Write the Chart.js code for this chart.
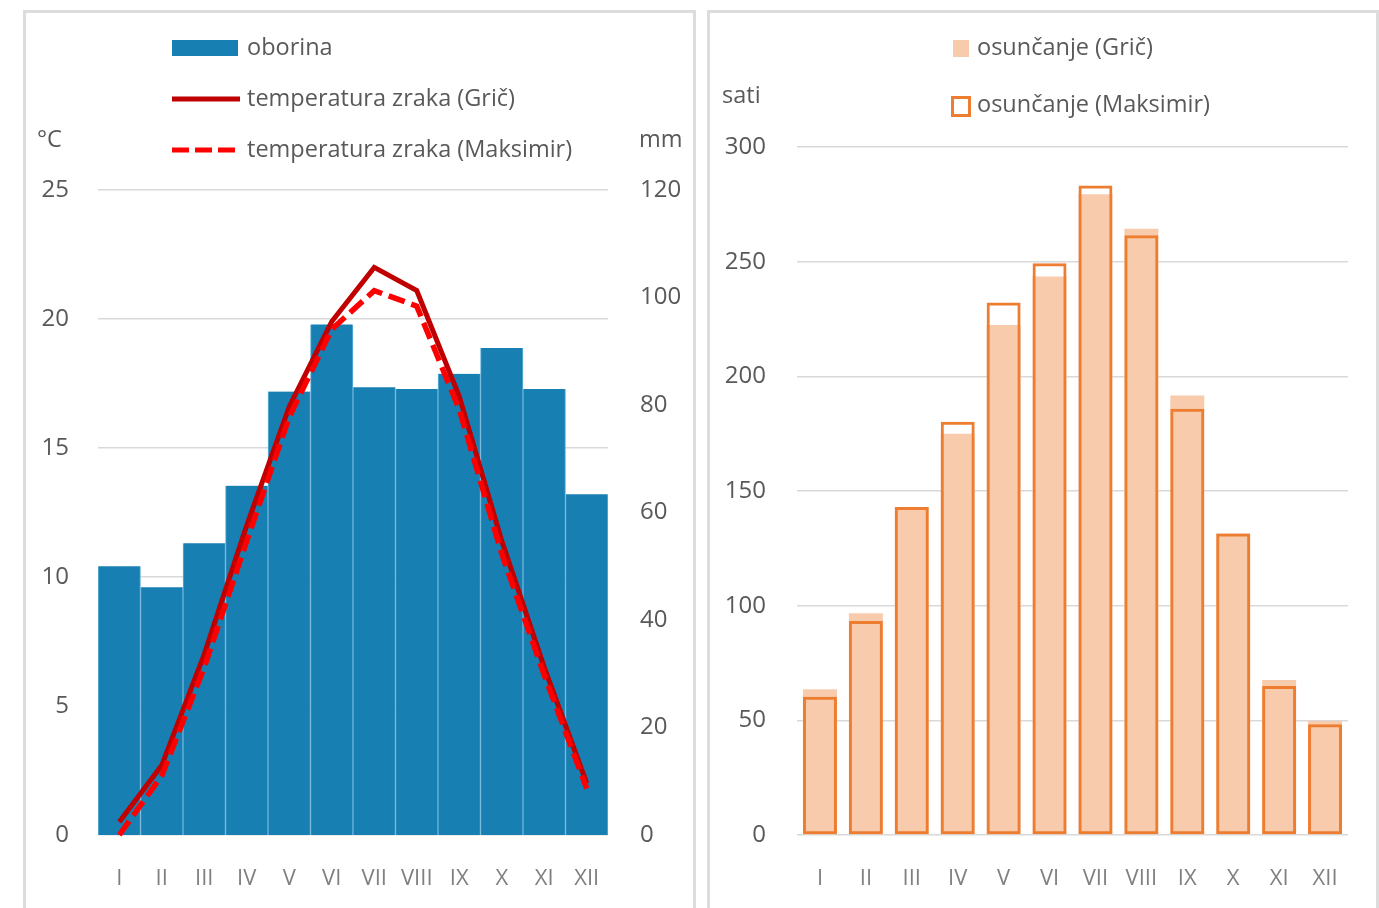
<!DOCTYPE html>
<html>
<head>
<meta charset="utf-8">
<script src="https://cdn.jsdelivr.net/npm/chart.js@4.4.1/dist/chart.umd.min.js"></script>
<style>
  html, body { margin: 0; padding: 0; background: #ffffff; overflow: hidden; }
  body { width: 1379px; height: 908px; position: relative; }
  .panel { position: absolute; top: 10px; height: 920px; border: 3px solid #dcdcdc; box-sizing: border-box; background: #fff; }
  #p1 { left: 23px; width: 673px; }
  #p2 { left: 707px; width: 672px; }
  canvas { position: absolute; }
  #c1 { left: 26px; top: 13px; }
  #c2 { left: 710px; top: 13px; }
</style>
</head>
<body>
<div class="panel" id="p1"></div>
<div class="panel" id="p2"></div>
<canvas id="c1" width="667" height="895"></canvas>
<canvas id="c2" width="666" height="895"></canvas>
<script>
// ---- Data ----
const months = ['I', 'II', 'III', 'IV', 'V', 'VI', 'VII', 'VIII', 'IX', 'X', 'XI', 'XII'];
const oborina = [50.0, 46.1, 54.3, 65.0, 82.5, 95.0, 83.3, 83.0, 85.8, 90.6, 83.0, 63.4];
const tempGric = [0.5, 2.7, 7.0, 12.0, 16.6, 19.9, 22.0, 21.1, 17.0, 11.4, 6.5, 2.0];
const tempMaksimir = [0.0, 2.3, 6.5, 11.4, 16.2, 19.6, 21.1, 20.5, 16.5, 10.9, 6.2, 1.8];
const sunGric = [63.5, 96.7, 143, 175, 222.4, 243.5, 279.4, 264.3, 191.6, 131.5, 67.6, 49.7];
const sunMaksimir = [60.3, 93.3, 143, 180.2, 232.2, 249.3, 283.2, 261.5, 185.9, 131.5, 65.0, 48.3];
const tempTicks = [0, 5, 10, 15, 20, 25];
const mmTicks = [0, 20, 40, 60, 80, 100, 120];
const satiTicks = [0, 50, 100, 150, 200, 250, 300];

const FONT = "'Open Sans', 'DejaVu Sans', sans-serif";
const TXT = '#595959';
Chart.defaults.font.family = FONT;
Chart.defaults.color = TXT;
Chart.defaults.animation = false;

// ---- Left chart helpers ----
const leftDecor = {
  id: 'leftDecor',
  afterDraw(chart) {
    const ctx = chart.ctx;
    const ds = chart.data.datasets;
    ctx.save();
    ctx.font = "23.5px " + FONT;
    ctx.fillStyle = TXT;
    ctx.textBaseline = 'middle';
    ctx.textAlign = 'left';
    const bx = 146, tx = 221;
    const rows = [35, 86, 137];
    ctx.fillStyle = ds[2].backgroundColor;
    ctx.fillRect(bx, rows[0] - 8, 66, 16);
    ctx.fillStyle = TXT;
    ctx.fillText(ds[2].label, tx, rows[0]);
    ctx.strokeStyle = ds[0].borderColor;
    ctx.lineWidth = 5;
    ctx.setLineDash([]);
    ctx.beginPath(); ctx.moveTo(bx, rows[1]); ctx.lineTo(bx + 68, rows[1]); ctx.stroke();
    ctx.fillText(ds[0].label, tx, rows[1]);
    ctx.strokeStyle = ds[1].borderColor;
    ctx.setLineDash([17, 6]);
    ctx.beginPath(); ctx.moveTo(bx, rows[2]); ctx.lineTo(bx + 63, rows[2]); ctx.stroke();
    ctx.setLineDash([]);
    ctx.fillText(ds[1].label, tx, rows[2]);
    ctx.font = "23.5px " + FONT;
    ctx.fillText('°C', 11, 127);
    ctx.fillText('mm', 613, 127);
    ctx.restore();
  }
};

new Chart(document.getElementById('c1'), {
  data: {
    labels: months,
    datasets: [
      { type: 'line', label: 'temperatura zraka (Grič)', data: tempGric, yAxisID: 'yT',
        borderColor: '#c00000', borderWidth: 5, pointRadius: 0, tension: 0, clip: false, order: 1 },
      { type: 'line', label: 'temperatura zraka (Maksimir)', data: tempMaksimir, yAxisID: 'yT',
        borderColor: '#ff0000', borderWidth: 5.5, borderDash: [17, 7], pointRadius: 0, tension: 0, clip: false, order: 0 },
      { type: 'bar', label: 'oborina', data: oborina, yAxisID: 'yM',
        backgroundColor: '#177fb2', borderColor: '#6cb4da',
        borderWidth: { left: 1, right: 1, top: 0, bottom: 0 }, borderSkipped: false,
        categoryPercentage: 1.0, barPercentage: 1.0, order: 3 }
    ]
  },
  options: {
    responsive: false,
    layout: { padding: { top: 177, left: 0, right: 0, bottom: 0 } },
    plugins: { legend: { display: false }, tooltip: { enabled: false } },
    scales: {
      x: {
        offset: true,
        grid: { display: false, drawTicks: false },
        border: { display: false },
        ticks: { font: { size: 22 }, color: '#808080', padding: 31, maxRotation: 0, autoSkip: false },
        afterFit(s) { s.height = 73; }
      },
      yT: {
        position: 'left', min: 0, max: 25,
        afterBuildTicks(s) { s.ticks = tempTicks.map(v => ({ value: v })); },
        grid: { color: '#d9d9d9', lineWidth: 1.5, drawTicks: false },
        border: { display: false },
        ticks: { font: { size: 24 }, color: TXT, padding: 29 },
        afterFit(s) { s.width = 72; }
      },
      yM: {
        position: 'right', min: 0, max: 120,
        afterBuildTicks(s) { s.ticks = mmTicks.map(v => ({ value: v })); },
        grid: { display: false, drawTicks: false },
        border: { display: false },
        ticks: { font: { size: 24 }, color: TXT, padding: 32 },
        afterFit(s) { s.width = 85; }
      }
    }
  },
  plugins: [leftDecor]
});

// ---- Right chart ----
const rightDecor = {
  id: 'rightDecor',
  afterDraw(chart) {
    const ctx = chart.ctx;
    const ds = chart.data.datasets;
    ctx.save();
    ctx.font = "23.5px " + FONT;
    ctx.textBaseline = 'middle';
    ctx.textAlign = 'left';
    const tx = 267;
    ctx.fillStyle = ds[1].backgroundColor;
    ctx.fillRect(243, 27, 16, 17);
    ctx.fillStyle = TXT;
    ctx.fillText(ds[1].label, tx, 35);
    ctx.strokeStyle = ds[0].borderColor;
    ctx.lineWidth = 3;
    ctx.strokeRect(242.5, 84.5, 17, 18);
    ctx.fillText(ds[0].label, tx, 92);
    ctx.font = "23.5px " + FONT;
    ctx.fillText('sati', 12, 83);
    ctx.restore();
  }
};

new Chart(document.getElementById('c2'), {
  type: 'bar',
  data: {
    labels: months,
    datasets: [
      { label: 'osunčanje (Maksimir)', data: sunMaksimir,
        backgroundColor: 'rgba(0,0,0,0)', borderColor: '#ed7d31', borderWidth: 3, borderSkipped: false,
        grouped: false, categoryPercentage: 1.0, barPercentage: 0.74, order: 0 },
      { label: 'osunčanje (Grič)', data: sunGric,
        backgroundColor: '#f8cbad', borderWidth: 0,
        grouped: false, categoryPercentage: 1.0, barPercentage: 0.74, order: 1 }
    ]
  },
  options: {
    responsive: false,
    layout: { padding: { top: 134, left: 0, right: 28, bottom: 0 } },
    plugins: { legend: { display: false }, tooltip: { enabled: false } },
    scales: {
      x: {
        offset: true,
        grid: { display: false, drawTicks: false },
        border: { display: false },
        ticks: { font: { size: 22 }, color: '#808080', padding: 31, maxRotation: 0, autoSkip: false },
        afterFit(s) { s.height = 73; }
      },
      y: {
        min: 0, max: 300,
        afterBuildTicks(s) { s.ticks = satiTicks.map(v => ({ value: v })); },
        grid: { color: '#d9d9d9', lineWidth: 1.5, drawTicks: false },
        border: { display: false },
        ticks: { font: { size: 24 }, color: TXT, padding: 31 },
        afterFit(s) { s.width = 87; }
      }
    }
  },
  plugins: [rightDecor]
});
</script>
</body>
</html>
